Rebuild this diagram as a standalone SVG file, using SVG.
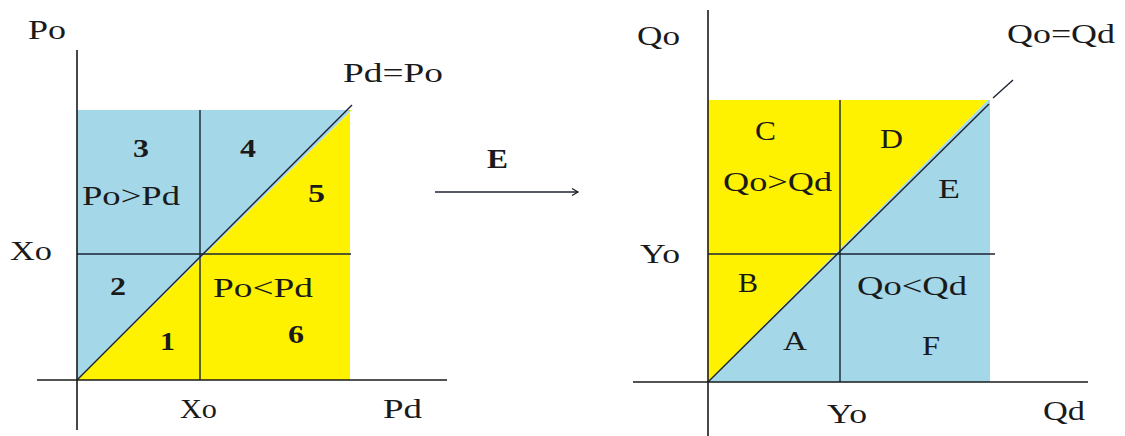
<svg xmlns="http://www.w3.org/2000/svg" width="1125" height="436" viewBox="0 0 1125 436">
<style>
.t{font-family:"Liberation Serif","Times New Roman",serif;font-size:28px;fill:#1a1a1a}
.b{font-family:"Liberation Serif","Times New Roman",serif;font-size:25px;font-weight:bold;fill:#1a1a1a}
.ax{stroke:#1a1a1a;stroke-width:1.6;fill:none}
.ln{stroke:#1c2333;stroke-width:1.4;fill:none}
.blue{fill:#a4d7e8}
.yel{fill:#fff200}
</style>
<defs>
<marker id="ah" markerWidth="10" markerHeight="10" refX="8" refY="5" orient="auto" markerUnits="userSpaceOnUse">
<path d="M2,1.5 L8,5 L2,8.5" fill="none" stroke="#1a1a1a" stroke-width="1.2"/>
</marker>
</defs>
<rect width="1125" height="436" fill="#ffffff"/>

<g id="left-chart">
<polygon class="blue" points="77,380 77,110 352,110"/>
<polygon class="yel" points="77,380 352,110 350,110 350,380"/>
<line class="ln" x1="200" y1="110" x2="200" y2="380"/>
<line class="ln" x1="77" y1="254" x2="351" y2="254"/>
<line class="ln" x1="77" y1="380" x2="352" y2="105"/>
<line class="ax" x1="77" y1="50" x2="77" y2="430"/>
<line class="ax" x1="37" y1="380" x2="447" y2="380"/>
<text class="t" x="28" y="39" textLength="38" lengthAdjust="spacingAndGlyphs">Po</text>
<text class="t" x="343" y="82" textLength="100" lengthAdjust="spacingAndGlyphs">Pd=Po</text>
<text class="t" x="10" y="260" textLength="42" lengthAdjust="spacingAndGlyphs">Xo</text>
<text class="t" x="180" y="418" textLength="37" lengthAdjust="spacingAndGlyphs">Xo</text>
<text class="t" x="383" y="418" textLength="39" lengthAdjust="spacingAndGlyphs">Pd</text>
<text class="b" x="133" y="157" textLength="16" lengthAdjust="spacingAndGlyphs">3</text>
<text class="t" x="82" y="205" textLength="98" lengthAdjust="spacingAndGlyphs">Po&gt;Pd</text>
<text class="b" x="240" y="157" textLength="16" lengthAdjust="spacingAndGlyphs">4</text>
<text class="b" x="308" y="202" textLength="17" lengthAdjust="spacingAndGlyphs">5</text>
<text class="b" x="110" y="295" textLength="16" lengthAdjust="spacingAndGlyphs">2</text>
<text class="t" x="213" y="297" textLength="100" lengthAdjust="spacingAndGlyphs">Po&lt;Pd</text>
<text class="b" x="160" y="350" textLength="15" lengthAdjust="spacingAndGlyphs">1</text>
<text class="b" x="288" y="343" textLength="16" lengthAdjust="spacingAndGlyphs">6</text>
</g>

<g id="connectors">
<line class="ln" x1="435" y1="192" x2="578" y2="192" marker-end="url(#ah)"/>
<text class="b" x="487" y="168" textLength="21" lengthAdjust="spacingAndGlyphs" style="font-size:28px">E</text>
</g>

<g id="right-chart">
<polygon class="yel" points="708,382 708,100 988,100"/>
<polygon class="blue" points="708,382 988,100 990,100 990,382"/>
<line class="ln" x1="840" y1="100" x2="840" y2="382"/>
<line class="ln" x1="708" y1="254" x2="995" y2="254"/>
<line class="ln" x1="708" y1="382" x2="989" y2="104"/>
<line class="ln" x1="993" y1="98" x2="1013" y2="80"/>
<line class="ax" x1="708" y1="10" x2="708" y2="436"/>
<line class="ax" x1="633" y1="382" x2="1088" y2="382"/>
<text class="t" x="637" y="45" textLength="43" lengthAdjust="spacingAndGlyphs">Qo</text>
<text class="t" x="1007" y="43" textLength="108" lengthAdjust="spacingAndGlyphs">Qo=Qd</text>
<text class="t" x="640" y="263" textLength="40" lengthAdjust="spacingAndGlyphs">Yo</text>
<text class="t" x="827" y="423" textLength="40" lengthAdjust="spacingAndGlyphs">Yo</text>
<text class="t" x="1043" y="420" textLength="42" lengthAdjust="spacingAndGlyphs">Qd</text>
<text class="t" x="755" y="140" textLength="21" lengthAdjust="spacingAndGlyphs">C</text>
<text class="t" x="723" y="191" textLength="109" lengthAdjust="spacingAndGlyphs">Qo&gt;Qd</text>
<text class="t" x="880" y="148" textLength="23" lengthAdjust="spacingAndGlyphs">D</text>
<text class="t" x="938" y="198" textLength="22" lengthAdjust="spacingAndGlyphs">E</text>
<text class="t" x="738" y="292" textLength="20" lengthAdjust="spacingAndGlyphs">B</text>
<text class="t" x="857" y="295" textLength="110" lengthAdjust="spacingAndGlyphs">Qo&lt;Qd</text>
<text class="t" x="783" y="350" textLength="24" lengthAdjust="spacingAndGlyphs">A</text>
<text class="t" x="922" y="355" textLength="18" lengthAdjust="spacingAndGlyphs">F</text>
</g>
</svg>
